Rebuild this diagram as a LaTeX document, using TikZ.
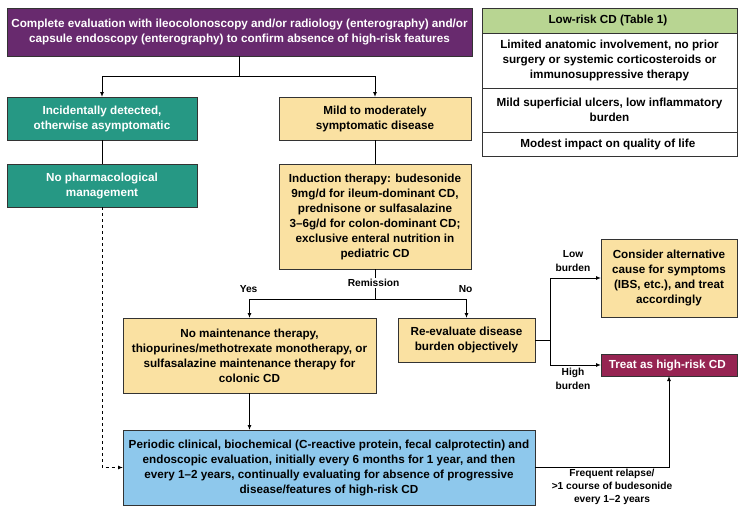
\documentclass[tikz,border=0pt]{standalone}
\usepackage{fontspec}
\setmainfont{Liberation Sans}
\usetikzlibrary{arrows.meta, positioning}

\definecolor{evalpurple}{RGB}{104,42,110}
\definecolor{asymgreen}{RGB}{38,152,132}
\definecolor{mildyellow}{RGB}{250,225,162}
\definecolor{riskred}{RGB}{150,36,82}
\definecolor{followblue}{RGB}{142,200,236}
\definecolor{headgreen}{RGB}{184,213,146}

\begin{document}
\begin{tikzpicture}[x = 1pt, y = -1pt,
    font = \bfseries\fontsize{11.7}{15}\selectfont,
    box/.style = { draw = black!80, line width = .9pt, align = center, inner sep = 0pt, outer sep = 0pt },
    wbox/.style = { box, text = white },
    lbl/.style = { align = center, font = \bfseries\fontsize{10.2}{14}\selectfont },
    arr/.style = { line width = 1pt, -{Latex[length = 5pt, width = 4pt]} },
    conn/.style = { line width = 1pt }]
    \useasboundingbox (0,0) rectangle (738,506);

    % boxes
    \node [wbox, fill = evalpurple, minimum width = 465, minimum height = 48] (eval) at (239.5,32)
      { Complete evaluation with ileocolonoscopy and/or radiology (enterography) and/or \\
        capsule endoscopy (enterography) to confirm absence of high-risk features };
    \node [wbox, fill = asymgreen, minimum width = 190, minimum height = 43] (asym) at (102,118.5)
      { Incidentally detected, \\ otherwise asymptomatic };
    \node [wbox, fill = asymgreen, minimum width = 190, minimum height = 43] (nopharm) at (102,185.5)
      { No pharmacological \\ management };
    \node [box, fill = mildyellow, minimum width = 192, minimum height = 43] (mild) at (375,118.5)
      { Mild to moderately \\ symptomatic disease };
    \node [box, fill = mildyellow, minimum width = 192, minimum height = 105] (induct) at (375,216.5)
      { Induction therapy: budesonide \\ 9mg/d for ileum-dominant CD, \\ prednisone or sulfasalazine \\
        3--6g/d for colon-dominant CD; \\ exclusive enteral nutrition in \\ pediatric CD };
    \node [box, fill = mildyellow, minimum width = 253, minimum height = 75] (maint) at (249.5,355.5)
      { No maintenance therapy, \\ thiopurines/methotrexate monotherapy, or \\
        sulfasalazine maintenance therapy for \\ colonic CD };
    \node [box, fill = mildyellow, minimum width = 137, minimum height = 44] (reeval) at (466.5,340)
      { Re-evaluate disease \\ burden objectively };
    \node [box, fill = mildyellow, minimum width = 136, minimum height = 78] (altcause) at (669,278)
      { Consider alternative \\ cause for symptoms \\ (IBS, etc.), and treat \\ accordingly };
    \node [wbox, fill = riskred, minimum width = 136, minimum height = 22] (highrisk) at (669,365)
      { Treat as high-risk CD };
    \node [box, fill = followblue, minimum width = 412, minimum height = 75] (follow) at (329,467.5)
      { Periodic clinical, biochemical (C-reactive protein, fecal calprotectin) and \\
        endoscopic evaluation, initially every 6 months for 1 year, and then \\
        every 1--2 years, continually evaluating for absence of progressive \\
        disease/features of high-risk CD };

    % table of low-risk CD
    \node [box, fill = headgreen, minimum width = 255, minimum height = 25] (thead) at (609.5,20.5)
      { Low-risk CD (Table 1) };
    \node [box, minimum width = 255, minimum height = 55, below = 0pt of thead] (trowa)
      { Limited anatomic involvement, no prior \\ surgery or systemic corticosteroids or \\ immunosuppressive therapy };
    \node [box, minimum width = 255, minimum height = 44, below = 0pt of trowa] (trowb)
      { Mild superficial ulcers, low inflammatory \\ burden };
    \node [box, minimum width = 255, minimum height = 24, below = 0pt of trowb] (trowc)
      { Modest impact on quality of life };

    % connectors
    \coordinate (split) at (239.5,76);
    \draw [conn] (eval) -- (split);
    \draw [arr] (split) -| (asym);
    \draw [arr] (split) -| (mild);
    \draw [conn] (asym) -- (nopharm);
    \draw [conn] (mild) -- (induct);
    \draw [arr, dashed] (nopharm) |- (follow);

    \coordinate (remit) at (375,299);
    \draw [conn] (induct) -- (remit);
    \node [lbl, fill = white, inner sep = 1pt] (remitlbl) at (375,283) { Remission };
    \draw [arr] (remit) -| (maint);
    \draw [arr] (remit) -| (reeval.north);
    \node [lbl] (yes) at (250,289) { Yes };
    \node [lbl] (no) at (467,289) { No };
    \draw [arr] (maint) -- (maint |- follow.north);

    \coordinate (burden) at (550,340);
    \draw [conn] (reeval) -- (burden);
    \draw [arr] (burden) |- (altcause);
    \draw [arr] (burden) |- (highrisk);
    \node [lbl] (lowlbl) at (573,261) { Low \\ burden };
    \node [lbl] (highlbl) at (573,379) { High \\ burden };

    \coordinate (relapse) at (669,467.5);
    \draw [conn] (follow) -- (relapse);
    \draw [arr] (relapse) -- (highrisk);
    \node [lbl, font = \bfseries\fontsize{10.2}{13}\selectfont] (relapselbl) at (612,487)
      { Frequent relapse/ \\ >1 course of budesonide \\ every 1--2 years };
\end{tikzpicture}
\end{document}
